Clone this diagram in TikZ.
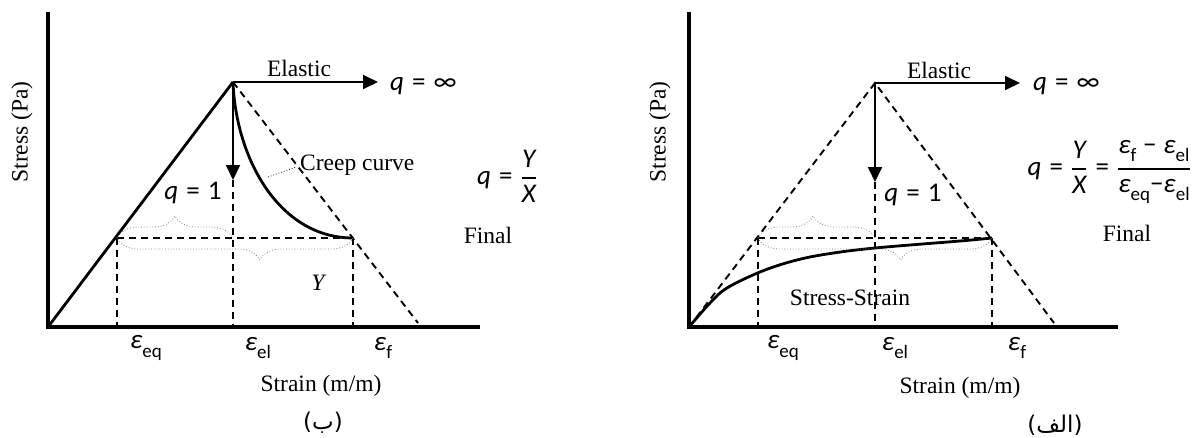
\documentclass[tikz,border=0pt]{standalone}
\usepackage{fontspec}
\usepackage{amsmath}
\setmainfont{Liberation Serif}
\newfontfamily\mf{Carlito}
\newfontfamily\arabicfont[Script=Arabic]{DejaVu Sans}
\TeXXeTstate=1
\usetikzlibrary{arrows.meta,decorations.pathreplacing}
\newcommand\sbs[1]{\raisebox{-0.3em}{\fontsize{19}{19}\selectfont\mf #1}}
\newcommand\mq{{\mf\itshape q}}
\newcommand\meps[1]{{\mf\itshape ε}\sbs{#1}}
\newcommand\eqs{\hspace{0.3em}{\mf =}\hspace{0.3em}}
\newcommand\mfr[2]{$\genfrac{}{}{2pt}{0}{\mbox{#1}}{\mbox{#2}}$}
\begin{document}
\begin{tikzpicture}[x=1pt,y=-1pt,
  axis/.style={line width=3.2pt},
  solidln/.style={line width=2.8pt},
  dashln/.style={line width=1.9pt,dash pattern=on 7pt off 5pt},
  arr/.style={line width=1.9pt,-{Triangle[length=15pt,width=14pt]}},
  brc/.style={decorate,decoration={brace,amplitude=22pt,aspect=#1},draw=gray,line width=0.8pt,dotted},
  leader/.style={line width=0.8pt,dotted},
  lbl/.style={font=\fontsize{23.5}{27}\selectfont,inner sep=0pt},
  mth/.style={font=\fontsize{27}{31}\selectfont\mf,inner sep=0pt},
  arab/.style={font=\fontsize{23}{27}\selectfont\arabicfont,inner sep=0pt},
]
\useasboundingbox (0,0) rectangle (1192,437);
%================ left panel
\coordinate (LT) at (48,12);
\coordinate (LO) at (48,327);
\coordinate (LE) at (480,327);
\coordinate (LP) at (233,82);
\coordinate (LA) at (378,82);
\coordinate (LD) at (233,180);
\coordinate (LQ) at (418,323);
\coordinate (Leq) at (117,238);
\coordinate (Lf) at (353,238);
\coordinate (Leqb) at (117,327);
\coordinate (Lelb) at (233,327);
\coordinate (Lfb) at (353,327);
\coordinate (Lc1) at (268,177);
\coordinate (Lc2) at (296,167);

\draw[axis] (LT) -- (LO) -- (LE);
\draw[solidln] (LO) -- (LP);
\draw[dashln] (LP) -- (LQ);
\draw[arr] (LP) -- (LA);
\draw[arr] (LP) -- (LD);
\draw[dashln] (LD) -- (Lelb);
\draw[dashln] (Leq) -- (Lf);
\draw[dashln] (Leq) -- (Leqb);
\draw[dashln] (Lf) -- (Lfb);
\draw[solidln] (LP) .. controls (236,160) and (280,238) .. (Lf);
\draw[brc=0.5] (Leq) -- (LD |- Leq);
\draw[brc=0.395] (Lf) -- (Leq);
\draw[leader] (Lc1) -- (Lc2);

\node[lbl] (Lelastic) at (299,68) {Elastic};
\node[mth,anchor=west] (Lqinf) at (390,86) {\mq\eqs∞};
\node[lbl,anchor=west] (Lcreep) at (300,165) {Creep curve};
\node[mth] (Lq1) at (193,193) {\mq\eqs1};
\node[lbl,font=\fontsize{23.5}{27}\selectfont\itshape] (LY) at (318,283) {Y};
\node[mth] (Lform) at (507,176) {\mq\eqs\mfr{\itshape Y}{\itshape X}};
\node[lbl] (Lfinal) at (488,235) {Final};
\node[mth] (Leps1) at (146,348) {\meps{eq}};
\node[mth] (Leps2) at (258,348) {\meps{el}};
\node[mth] (Leps3) at (383,348) {\meps{f}};
\node[lbl] (Lxl) at (321,386) {Strain (m/m)};
\node[lbl,rotate=90] (Lyl) at (22,132) {Stress (Pa)};
\node[arab] (Lcap) at (323,423) {\beginR(ب)\endR};

%================ right panel
\coordinate (RT) at (689,12);
\coordinate (RO) at (689,327);
\coordinate (RE) at (1118,327);
\coordinate (RP) at (875,83);
\coordinate (RA) at (1020,83);
\coordinate (RD) at (875,182);
\coordinate (RQ) at (1054,323);
\coordinate (Req) at (758,238);
\coordinate (Rf) at (992,238);
\coordinate (Reqb) at (758,327);
\coordinate (Relb) at (875,327);
\coordinate (Rfb) at (992,327);

\draw[axis] (RT) -- (RO) -- (RE);
\draw[dashln] (RO) -- (RP) -- (RQ);
\draw[arr] (RP) -- (RA);
\draw[arr] (RP) -- (RD);
\draw[dashln] (RD) -- (Relb);
\draw[dashln] (Req) -- (Rf);
\draw[dashln] (Req) -- (Reqb);
\draw[dashln] (Rf) -- (Rfb);
\draw[solidln] plot[smooth,tension=0.6] coordinates {(689,327) (710,303) (727,288) (760,272) (793,261) (827,254) (875,248) (960,241) (992,238)};
\draw[brc=0.47] (Req) -- (RD |- Req);
\draw[brc=0.39] (Rf) -- (Req);

\node[lbl] (Relastic) at (939,70) {Elastic};
\node[mth,anchor=west] (Rqinf) at (1033,86) {\mq\eqs∞};
\node[mth] (Rq1) at (913,195) {\mq\eqs1};
\node[lbl] (Rss) at (850,298) {Stress-Strain};
\node[mth,anchor=east] (Rform) at (1191,172) {\mq\eqs\mfr{\itshape Y}{\itshape X}\eqs\mfr{\meps{f}\hspace{0.25em}−\hspace{0.25em}\meps{el}}{\meps{eq}−\meps{el}}};
\node[lbl] (Rfinal) at (1127,233) {Final};
\node[mth] (Reps1) at (783,348) {\meps{eq}};
\node[mth] (Reps2) at (895,348) {\meps{el}};
\node[mth] (Reps3) at (1017,348) {\meps{f}};
\node[lbl] (Rxl) at (960,388) {Strain (m/m)};
\node[lbl,rotate=90] (Ryl) at (660,132) {Stress (Pa)};
\node[arab] (Rcap) at (1055,425) {\beginR(الف)\endR};
\end{tikzpicture}
\end{document}
